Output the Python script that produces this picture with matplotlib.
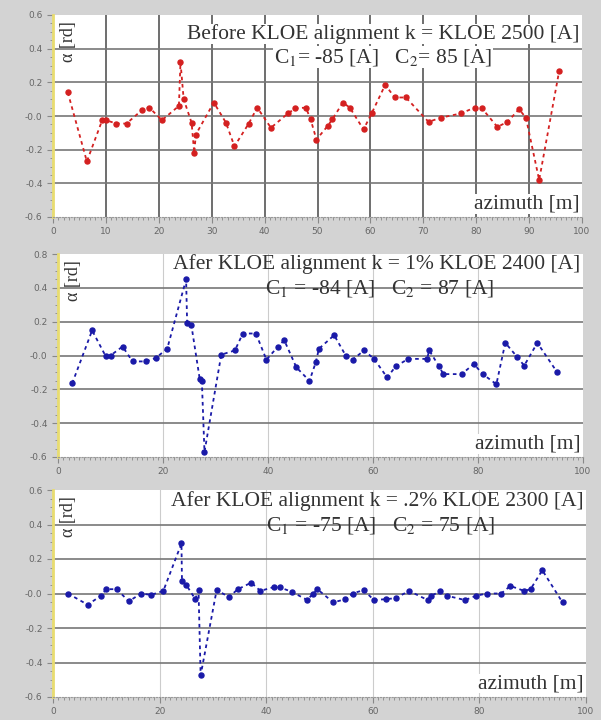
import numpy as np
import matplotlib.pyplot as plt
from matplotlib.ticker import MultipleLocator, FixedLocator

plt.rcParams['mathtext.fontset'] = 'stix'

# 方位角 [m] 与 alpha [rd] 数据

# 面板 1: Before KLOE alignment
az_before = [2.8, 6.4, 9.3, 10.0, 12.0, 13.9, 16.8, 18.2, 20.6, 23.8, 24.1, 24.7,
             26.2, 26.7, 27.0, 30.4, 32.7, 34.3, 37.0, 38.6, 41.2, 44.4, 45.8,
             47.8, 48.7, 49.8, 51.9, 52.8, 54.8, 56.1, 58.7, 60.3, 62.8, 64.6,
             66.7, 71.0, 73.3, 77.1, 79.7, 81.1, 84.0, 85.9, 88.1, 89.4, 91.9, 95.7]
alpha_before = [0.14, -0.27, -0.025, -0.025, -0.045, -0.045, 0.035, 0.05, -0.025, 0.06, 0.32, 0.10,
                -0.04, -0.22, -0.11, 0.08, -0.04, -0.18, -0.045, 0.05, -0.07, 0.015, 0.045,
                0.05, -0.02, -0.14, -0.06, -0.02, 0.08, 0.05, -0.08, 0.02, 0.185, 0.11,
                0.11, -0.035, -0.01, 0.015, 0.05, 0.045, -0.065, -0.035, 0.04, -0.01, -0.38, 0.27]

# 面板 2: After, k = 1%
az_1pct = [2.7, 6.5, 9.1, 10.0, 12.3, 14.2, 16.8, 18.6, 20.8, 24.4, 24.6, 25.4,
           27.0, 27.4, 27.9, 31.1, 33.7, 35.2, 37.7, 39.7, 41.9, 43.1, 45.4,
           47.9, 49.1, 49.7, 52.6, 54.8, 56.1, 58.3, 60.2, 62.7, 64.3, 66.7,
           70.3, 70.7, 72.6, 73.4, 76.9, 79.2, 80.9, 83.5, 85.2, 87.5, 88.8, 91.3, 95.1]
alpha_1pct = [-0.165, 0.148, -0.005, 0.0, 0.053, -0.035, -0.035, -0.015, 0.04, 0.45, 0.19, 0.18,
              -0.14, -0.15, -0.57, 0.005, 0.03, 0.13, 0.13, -0.025, 0.053, 0.09, -0.07,
              -0.15, -0.04, 0.04, 0.12, 0.0, -0.025, 0.03, -0.02, -0.13, -0.065, -0.02,
              -0.02, 0.03, -0.065, -0.11, -0.11, -0.05, -0.11, -0.17, 0.075, -0.01, -0.06, 0.075, -0.10]

# 面板 3: After, k = .2%
az_02pct = [2.8, 6.5, 9.0, 10.0, 12.0, 14.2, 16.5, 18.4, 20.7, 24.1, 24.2, 25.0,
            26.7, 27.3, 27.7, 30.7, 33.0, 34.7, 37.2, 38.9, 41.5, 42.6, 44.8,
            47.7, 48.8, 49.6, 52.6, 54.8, 56.2, 58.3, 60.2, 62.4, 64.3, 66.8,
            70.3, 70.9, 72.7, 73.9, 77.3, 79.4, 81.4, 84.1, 85.8, 88.4, 89.6, 91.8, 95.6]
alpha_02pct = [0.0, -0.065, -0.013, 0.025, 0.025, -0.046, 0.0, -0.008, 0.015, 0.29, 0.07, 0.05,
               -0.033, 0.02, -0.475, 0.02, -0.02, 0.025, 0.063, 0.015, 0.038, 0.035, 0.01,
               -0.038, 0.0, 0.025, -0.052, -0.033, 0.0, 0.02, -0.038, -0.033, -0.027, 0.015,
               -0.038, -0.013, 0.012, -0.013, -0.038, -0.013, 0.0, 0.0, 0.044, 0.015, 0.025, 0.135, -0.052]

titles = ["Before KLOE alignment k = KLOE 2500 [A]",
          "Afer KLOE alignment k = 1% KLOE 2400 [A]",
          "Afer KLOE alignment k = .2% KLOE 2300 [A]"]
subtitles = [r"C$_1$= -85 [A]   C$_2$= 85 [A]",
             r"C$_1$ = -84 [A]   C$_2$ = 87 [A]",
             r"C$_1$ = -75 [A]   C$_2$ = 75 [A]"]

y_ticks = [-0.6, -0.4, -0.2, 0.0, 0.2, 0.4, 0.6]
y_labels_std = ["-0.6", "-0.4", "-0.2", "-0.0", "0.2", "0.4", "0.6"]
y_labels_mid = ["-0.6", "-0.4", "-0.2", "-0.0", "0.2", "0.4", "0.8"]

BG = "#d3d3d3"
SERIF = ["Liberation Serif", "DejaVu Serif"]

fig = plt.figure(figsize=(6.01, 7.2), dpi=100, facecolor=BG)
W, H = 601.0, 720.0
# 各面板坐标轴位置 (像素: 左, 右, 上, 下)
boxes = [(53, 582, 15, 217), (58, 583, 254, 457), (53, 586, 490, 697)]
# 标题行的纵向位置 (轴坐标)
title_y = [(0.906, 0.79), (0.95, 0.83), (0.947, 0.83)]

data = [(az_before, alpha_before, "#d42020", 10, "#555555", y_labels_std),
        (az_1pct, alpha_1pct, "#1a1aa8", 20, "#cccccc", y_labels_mid),
        (az_02pct, alpha_02pct, "#1a1aa8", 20, "#cccccc", y_labels_std)]

for i, (l, r, t, b) in enumerate(boxes):
    ax = fig.add_axes([l / W, 1 - b / H, (r - l) / W, (b - t) / H])
    x, y, col, xstep, vcol, ylabs = data[i]
    ax.set_facecolor("white")
    ax.set_xlim(0, 100)
    ax.set_ylim(-0.6, 0.6)

    # 网格
    for gx in np.arange(xstep, 100, xstep):
        ax.axvline(gx, color=vcol, lw=1.2 if i == 0 else 0.8, zorder=1)
    for gy in y_ticks[1:-1]:
        ax.axhline(gy, color="#777777", lw=1.2, zorder=1)

    ax.plot(x, y, linestyle=(0, (2, 2)), color=col, lw=1.3,
            marker="o", markersize=3.6, markerfacecolor=col, markeredgecolor=col, zorder=3)

    ax.xaxis.set_major_locator(MultipleLocator(xstep))
    ax.xaxis.set_minor_locator(MultipleLocator(1))
    ax.yaxis.set_major_locator(FixedLocator(y_ticks))
    ax.set_yticklabels(ylabs)
    ax.yaxis.set_minor_locator(MultipleLocator(0.05))
    ax.tick_params(axis="both", which="major", labelsize=6.5, labelcolor="#666666",
                   color="#888888", length=4)
    ax.tick_params(axis="both", which="minor", color="#888888", length=2)

    for s in ["top", "right"]:
        ax.spines[s].set_visible(False)
    ax.spines["left"].set_color("#e8dc70")
    ax.spines["left"].set_linewidth(2.0)
    ax.spines["bottom"].set_color("#999999")
    ax.spines["bottom"].set_linestyle(":")

    box = dict(facecolor="white", edgecolor="none", pad=0.3) if i == 0 else None
    ty1, ty2 = title_y[i]
    ax.text(0.995, ty1, titles[i], transform=ax.transAxes, ha="right", va="center",
            fontsize=15.5, family=SERIF, color="#333333", zorder=5, bbox=box)
    ax.text(0.83, ty2, subtitles[i], transform=ax.transAxes, ha="right", va="center",
            fontsize=15.5, family=SERIF, color="#333333", zorder=5, bbox=box)
    ax.text(0.995, 0.065, "azimuth [m]", transform=ax.transAxes, ha="right", va="center",
            fontsize=15.5, family=SERIF, color="#333333", zorder=5,
            bbox=dict(facecolor="white", edgecolor="none", pad=0.3))
    ax.text(0.03, 0.97, "α [rd]", transform=ax.transAxes, ha="center", va="top",
            rotation=90, fontsize=13, family=SERIF, color="#333333", zorder=5)

fig.savefig("out.png", dpi=100, facecolor=BG)
